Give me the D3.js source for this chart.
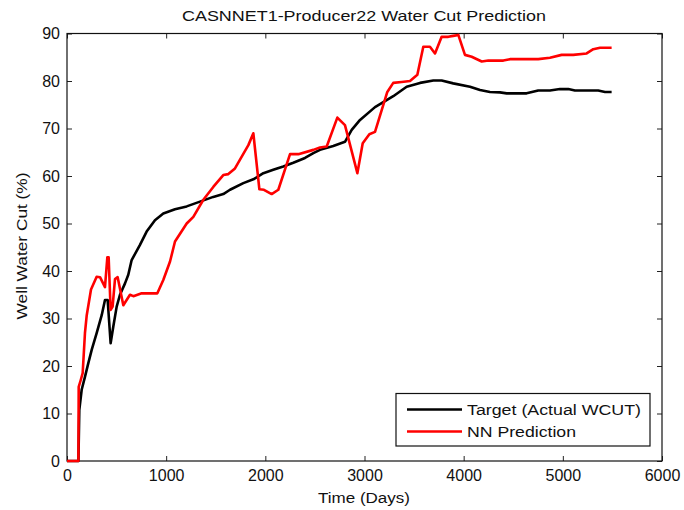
<!DOCTYPE html>
<html>
<head>
<meta charset="utf-8">
<script src="https://cdn.jsdelivr.net/npm/d3@7"></script>
<style>
  html, body { margin: 0; padding: 0; background: #fff; }
  svg { display: block; font-family: "Liberation Sans", Arial, Helvetica, sans-serif; }
</style>
</head>
<body>
<svg id="chart" width="684" height="510"></svg>
<script>
// Well water cut history: measured target vs. neural-network prediction
const targetDays = [0, 115, 124, 148, 181, 215, 249, 299, 350, 383, 410, 440, 467, 501, 534, 585, 618, 652, 736, 803, 887, 971, 1089, 1207, 1341, 1475, 1576, 1644, 1778, 1879, 1980, 2080, 2181, 2282, 2400, 2484, 2551, 2685, 2803, 2871, 2955, 3106, 3290, 3425, 3560, 3694, 3778, 3895, 4064, 4165, 4265, 4366, 4434, 4635, 4752, 4870, 4971, 5055, 5122, 5357, 5425, 5492];
const targetWcut = [0, 0, 10.7, 15, 17.7, 20.6, 23.4, 26.9, 30.7, 33.9, 33.9, 24.8, 28.3, 32.5, 35, 37.4, 39.2, 42.3, 45.5, 48.3, 50.7, 52.1, 53, 53.6, 54.6, 55.6, 56.2, 57.1, 58.5, 59.3, 60.6, 61.3, 62, 62.8, 63.8, 64.8, 65.5, 66.3, 67.2, 69.7, 71.8, 74.5, 76.8, 78.8, 79.6, 80.1, 80.1, 79.5, 78.8, 78.1, 77.7, 77.6, 77.4, 77.4, 78, 78, 78.3, 78.3, 78, 78, 77.7, 77.7];

const predDays = [0, 115, 118, 138, 158, 181, 199, 242, 299, 333, 383, 407, 420, 440, 460, 484, 511, 568, 635, 669, 753, 911, 971, 1039, 1089, 1207, 1274, 1375, 1475, 1576, 1627, 1694, 1762, 1829, 1879, 1940, 1986, 2064, 2131, 2249, 2333, 2484, 2551, 2619, 2726, 2803, 2928, 2982, 3049, 3106, 3230, 3290, 3375, 3459, 3533, 3593, 3660, 3711, 3778, 3845, 3895, 3946, 4013, 4081, 4182, 4249, 4400, 4467, 4752, 4870, 4988, 5105, 5240, 5307, 5375, 5492];
const predWcut = [0, 0, 15.6, 17, 18.5, 26.9, 30.7, 36.1, 38.8, 38.7, 36.6, 42.9, 42.9, 31.8, 32.5, 38.3, 38.7, 32.8, 35, 34.7, 35.3, 35.3, 38.1, 42, 46.2, 50, 51.4, 55, 57.7, 60.2, 60.4, 61.6, 64.1, 66.5, 69, 57.2, 57.1, 56.2, 57.1, 64.6, 64.6, 65.5, 66, 66.2, 72.3, 70.7, 60.6, 66.9, 68.8, 69.3, 77.7, 79.6, 79.8, 80, 81.3, 87.2, 87.2, 85.8, 89.3, 89.3, 89.5, 89.7, 85.5, 85.1, 84.1, 84.3, 84.3, 84.6, 84.6, 84.9, 85.5, 85.5, 85.8, 86.7, 87, 87];

const xTicks = [0, 1000, 2000, 3000, 4000, 5000, 6000];
const yTicks = [0, 10, 20, 30, 40, 50, 60, 70, 80, 90];
const seriesNames = ["Target (Actual WCUT)", "NN Prediction"];
const seriesColors = ["#000000", "#ff0000"];

const svg = d3.select("#chart");
const m = { left: 67, top: 33.5, right: 662, bottom: 461 };

const x = d3.scaleLinear().domain([0, 6000]).range([m.left, m.right]);
const y = d3.scaleLinear().domain([0, 90]).range([m.bottom, m.top]);

const tickFont = "16px";
const plain = d3.format("d");

// axes: ticks drawn inward on all four sides
const axisBottom = d3.axisBottom(x).tickValues(xTicks).tickFormat(plain).tickSizeInner(-5).tickSizeOuter(0).tickPadding(9);
const axisTop = d3.axisTop(x).tickValues(xTicks).tickSizeInner(-5).tickSizeOuter(0).tickFormat("");
const axisLeft = d3.axisLeft(y).tickValues(yTicks).tickFormat(plain).tickSizeInner(-5).tickSizeOuter(0).tickPadding(7);
const axisRight = d3.axisRight(y).tickValues(yTicks).tickSizeInner(-5).tickSizeOuter(0).tickFormat("");

function styleAxis(g) {
  g.select(".domain").remove();
  g.selectAll(".tick line").attr("stroke", "#222").attr("stroke-width", 1);
  g.selectAll(".tick text").attr("fill", "#111").style("font-size", tickFont)
    .style("font-family", '"Liberation Sans", Arial, sans-serif');
}

svg.append("g").attr("transform", `translate(0,${m.bottom})`).call(axisBottom).call(styleAxis);
svg.append("g").attr("transform", `translate(0,${m.top})`).call(axisTop).call(styleAxis);
svg.append("g").attr("transform", `translate(${m.left},0)`).call(axisLeft).call(styleAxis);
svg.append("g").attr("transform", `translate(${m.right},0)`).call(axisRight).call(styleAxis);

// plot frame
svg.append("rect")
  .attr("x", m.left).attr("y", m.top)
  .attr("width", m.right - m.left).attr("height", m.bottom - m.top)
  .attr("fill", "none").attr("stroke", "#111").attr("stroke-width", 1.2);

// series lines
const line = d3.line().x(d => x(d[0])).y(d => y(d[1]));
const targetPts = d3.zip(targetDays, targetWcut);
const predPts = d3.zip(predDays, predWcut);

svg.append("path").datum(targetPts).attr("d", line)
  .attr("fill", "none").attr("stroke", seriesColors[0]).attr("stroke-width", 2.6)
  .attr("stroke-linejoin", "round");
svg.append("path").datum(predPts).attr("d", line)
  .attr("fill", "none").attr("stroke", seriesColors[1]).attr("stroke-width", 2.6)
  .attr("stroke-linejoin", "round");

// title and axis labels
svg.append("text").attr("x", 364).attr("y", 21).attr("text-anchor", "middle")
  .style("font-size", "15.5px").attr("fill", "#111")
  .attr("textLength", 364).attr("lengthAdjust", "spacingAndGlyphs")
  .text("CASNNET1-Producer22 Water Cut Prediction");

svg.append("text").attr("x", 364).attr("y", 503).attr("text-anchor", "middle")
  .style("font-size", "15.5px").attr("fill", "#111")
  .attr("textLength", 92).attr("lengthAdjust", "spacingAndGlyphs")
  .text("Time (Days)");

svg.append("text").attr("transform", "translate(27,246) rotate(-90)").attr("text-anchor", "middle")
  .style("font-size", "15.5px").attr("fill", "#111")
  .attr("textLength", 147).attr("lengthAdjust", "spacingAndGlyphs")
  .text("Well Water Cut (%)");

// legend
const legend = svg.append("g");
legend.append("rect").attr("x", 396).attr("y", 393.5).attr("width", 254).attr("height", 52.5)
  .attr("fill", "#fff").attr("stroke", "#111").attr("stroke-width", 1.2);
const legendRows = [409.5, 431.5];
const legendWidths = [174, 109];
seriesNames.forEach((name, i) => {
  legend.append("line").attr("x1", 407).attr("x2", 462)
    .attr("y1", legendRows[i]).attr("y2", legendRows[i])
    .attr("stroke", seriesColors[i]).attr("stroke-width", 2.6);
  legend.append("text").attr("x", 467).attr("y", legendRows[i] + 5.5)
    .style("font-size", "15.5px").attr("fill", "#111")
    .attr("textLength", legendWidths[i]).attr("lengthAdjust", "spacingAndGlyphs")
    .text(name);
});
</script>
</body>
</html>
